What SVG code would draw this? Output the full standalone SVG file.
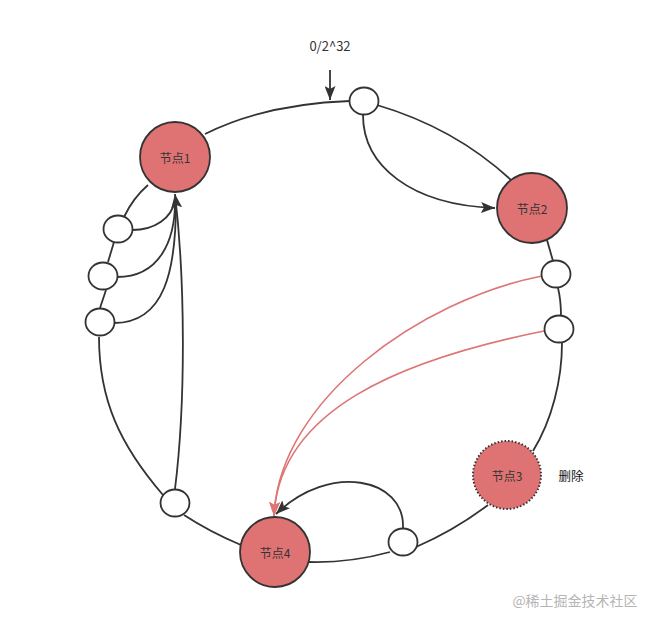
<svg xmlns="http://www.w3.org/2000/svg" width="652" height="626" viewBox="0 0 652 626">
<style>
.ring{fill:none;stroke:#333;stroke-width:1.8}
.edge{fill:none;stroke:#333;stroke-width:1.8}
.red{fill:none;stroke:#DD7575;stroke-width:1.6}
.small{fill:#fff;stroke:#333;stroke-width:1.8}
.node{fill:#DF7373;stroke:#333;stroke-width:1.8}
.dotted{fill:#DF7373;stroke:#333;stroke-width:2;stroke-dasharray:1.5 2}
.lbl{font-family:"Noto Sans CJK SC","Noto Sans",sans-serif;font-size:12px;fill:#333;text-anchor:middle;dominant-baseline:central}
</style>
<defs>
<marker id="arr" markerWidth="15" markerHeight="11" refX="14" refY="5.5" orient="auto" markerUnits="userSpaceOnUse">
<path d="M0,0 L14,5.5 L0,11 L3,5.5 Z" fill="#333"/>
</marker>
<marker id="arrRed" markerWidth="15" markerHeight="11" refX="14" refY="5.5" orient="auto" markerUnits="userSpaceOnUse">
<path d="M0,0 L14,5.5 L0,11 L3,5.5 Z" fill="#DD7575"/>
</marker>
</defs>
<rect width="652" height="626" fill="#fff"/>
<g id="connectors">
<path class="ring" d="M205,134 Q265,104 350,101"/>
<path class="ring" d="M377,105 Q455,128 511,180"/>
<path class="ring" d="M547,240 L553,261"/>
<path class="ring" d="M558,288 Q561,300 561,316"/>
<path class="ring" d="M562,343 C562,380 552,420 533,451"/>
<path class="ring" d="M488,505 Q455,530 416,547"/>
<path class="ring" d="M390,552 Q350,563 309,562"/>
<path class="ring" d="M241,545 Q210,532 184,515"/>
<path class="ring" d="M163,495 C120,445 99,400 99,337"/>
<path class="ring" d="M100,308 L106,290"/>
<path class="ring" d="M108,262 L114,242"/>
<path class="ring" d="M124,217 Q133,198 148,185"/>
<path class="edge" d="M330,70 L330,100" marker-end="url(#arr)"/>
<path class="edge" d="M363,115 C363,165 410,205 495,208" marker-end="url(#arr)"/>
<path class="edge" d="M132,230 C155,230 172,218 175,200"/>
<path class="edge" d="M117,277 C160,277 175,240 175,202"/>
<path class="edge" d="M114,323 C165,323 176,270 176,202"/>
<path class="edge" d="M175,489 C186,400 185,280 175,194" marker-end="url(#arr)"/>
<path class="red" d="M542,276 C420,300 279,400 274,516" marker-end="url(#arrRed)"/>
<path class="red" d="M544,331 C400,360 279,410 274,516" marker-end="url(#arrRed)"/>
<path class="edge" d="M403,528 C405,478 330,462 276,514" marker-end="url(#arr)"/>
</g>
<g id="s-top"><ellipse class="small" cx="364" cy="101" rx="14.5" ry="13.5"/></g>
<g id="s-l1"><ellipse class="small" cx="118" cy="229" rx="14.5" ry="13.5"/></g>
<g id="s-l2"><ellipse class="small" cx="103" cy="276" rx="14.5" ry="13.5"/></g>
<g id="s-l3"><ellipse class="small" cx="100" cy="322" rx="14.5" ry="13.5"/></g>
<g id="s-bl"><ellipse class="small" cx="175" cy="503" rx="14.5" ry="13.5"/></g>
<g id="s-br"><ellipse class="small" cx="403" cy="542" rx="14.5" ry="13.5"/></g>
<g id="s-r1"><ellipse class="small" cx="556" cy="274" rx="14.5" ry="13.5"/></g>
<g id="s-r2"><ellipse class="small" cx="559" cy="329" rx="14.5" ry="13.5"/></g>
<g id="node1"><circle class="node" cx="175" cy="157" r="35"/><text class="lbl" x="175" y="157">节点1</text></g>
<g id="node2"><circle class="node" cx="532" cy="208" r="35"/><text class="lbl" x="532" y="208">节点2</text></g>
<g id="node3"><circle class="dotted" cx="507" cy="475" r="34"/><text class="lbl" x="507" y="475">节点3</text></g>
<g id="node4"><circle class="node" cx="275" cy="552" r="35"/><text class="lbl" x="275" y="552">节点4</text></g>
<g id="labels">
<text class="lbl" x="330" y="45" style="font-size:13px">0/2^32</text>
<text class="lbl" x="571" y="475" style="font-size:12.5px;fill:#111">删除</text>
<text class="lbl" x="575" y="600" style="font-size:14px;fill:#b5b5b5">@稀土掘金技术社区</text>
</g>
</svg>
